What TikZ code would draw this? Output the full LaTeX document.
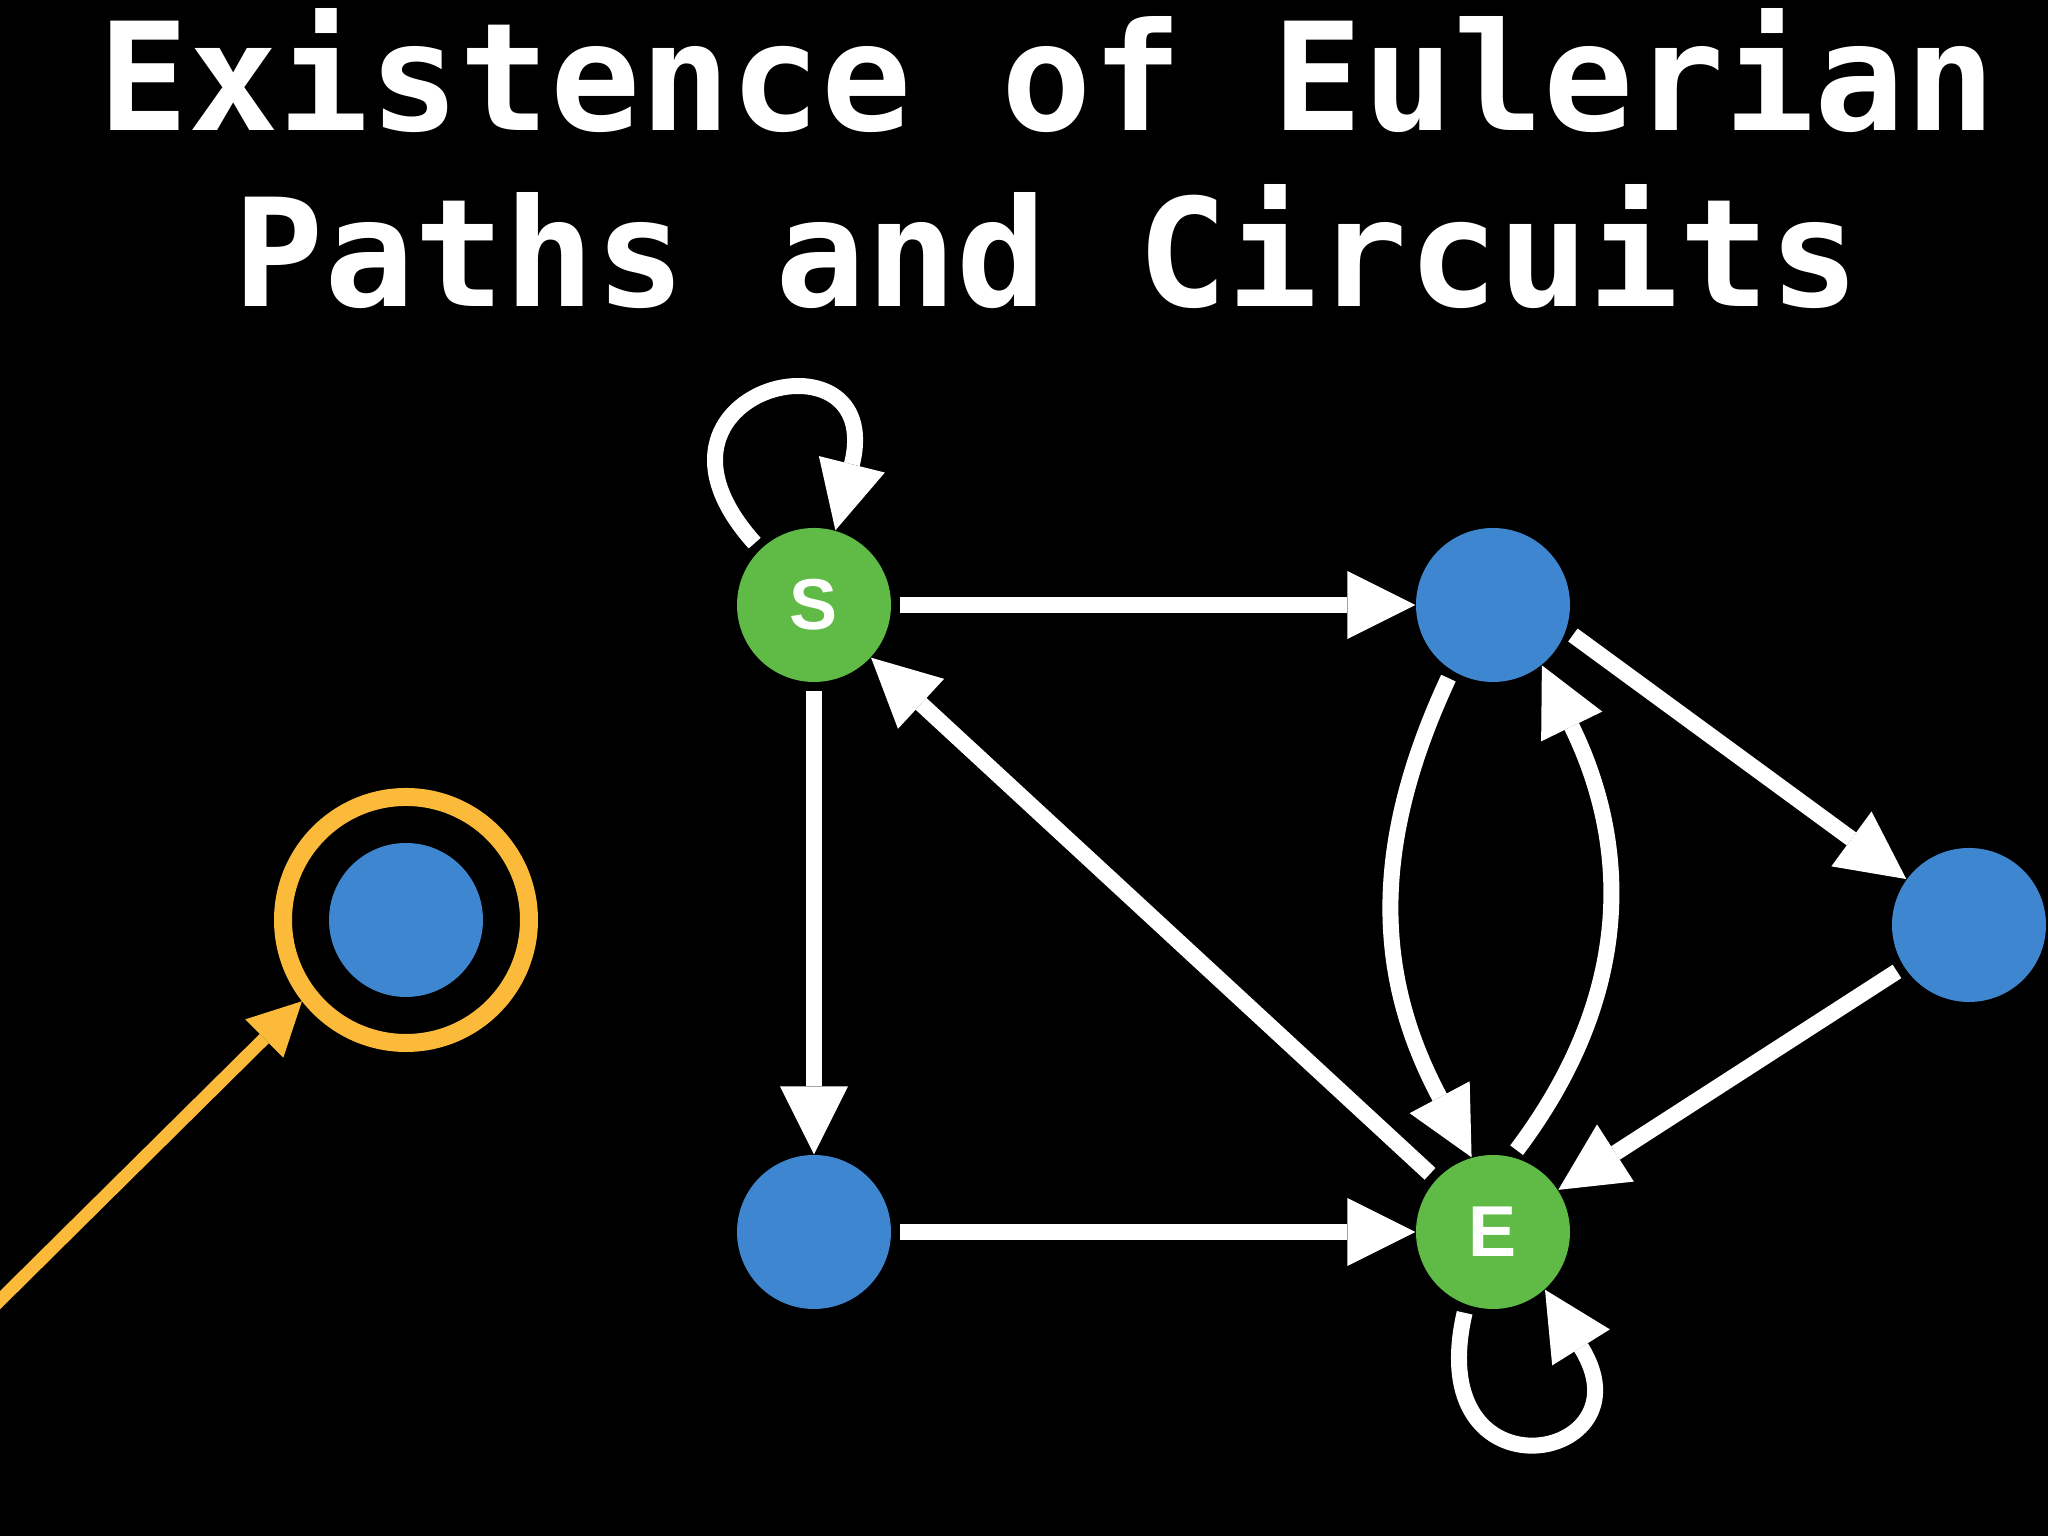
\documentclass[tikz,border=0pt]{standalone}
\usepackage{fontspec}
\setsansfont{Liberation Sans}
\setmonofont{DejaVu Sans Mono}
\usetikzlibrary{arrows.meta}
\definecolor{nodeblue}{RGB}{62,135,208}
\definecolor{nodegreen}{RGB}{96,187,70}
\definecolor{hilite}{RGB}{251,186,58}
\tikzset{vert/.style={circle, inner sep=0pt, minimum size=1.54cm, text=white,
    font=\sffamily\bfseries\fontsize{20.5pt}{24pt}\selectfont},
  bluev/.style={vert, fill=nodeblue},
  greenv/.style={vert, fill=nodegreen},
  link/.style={-{Triangle[length=0.68cm, width=0.68cm, line width=0pt]},
    line width=0.16cm, white, shorten <=0.08cm},
  ptr/.style={-{Triangle[length=0.53cm, width=0.54cm, line width=0pt]},
    line width=0.13cm, hilite}}

\begin{document}
\begin{tikzpicture}
  \useasboundingbox (0,0) rectangle (20.48,15.36);
  \fill[black] (0,0) rectangle (20.48,15.36);
  % title
  \node[text=white, font=\ttfamily\bfseries\fontsize{42.7pt}{50pt}\selectfont, anchor=base]
    (title1) at (10.47,14.05) {Existence of Eulerian};
  \node[text=white, font=\ttfamily\bfseries\fontsize{42.7pt}{50pt}\selectfont, anchor=base]
    (title2) at (10.47,12.29) {Paths and Circuits};
  % graph
  \node[greenv] (S) at (8.14,9.31) {S};
  \node[bluev]  (A) at (14.93,9.31) {};
  \node[bluev]  (B) at (19.69,6.11) {};
  \node[bluev]  (C) at (8.14,3.04) {};
  \node[greenv] (E) at (14.93,3.04) {E};
  \draw[link] (S) -- (A);
  \draw[link] (S) -- (C);
  \draw[link] (C) -- (E);
  \draw[link] (E) -- (S);
  \draw[link] (A.-19) -- (B);
  \draw[link] (B) -- (E);
  \draw[link] (A.238) to[out=245, in=118, looseness=1.05] (E.106);
  \draw[link] (E.76) to[out=53, in=296, looseness=1.05] (A.309);
  \draw[link] (S.134) .. controls +(132:2.15) and +(76:2.15) .. (S.74);
  \draw[link] (E.250) .. controls +(257:2.05) and +(302:2.05) .. (E.312);
  % highlighted vertex
  \node[bluev] (D) at (4.06,6.16) {};
  \node[circle, draw=hilite, line width=0.18cm, minimum size=2.46cm] (ring) at (D) {};
  \coordinate (src) at (-0.2,2.16);
  \draw[ptr] (src) -- (ring.218);
\end{tikzpicture}
\end{document}
